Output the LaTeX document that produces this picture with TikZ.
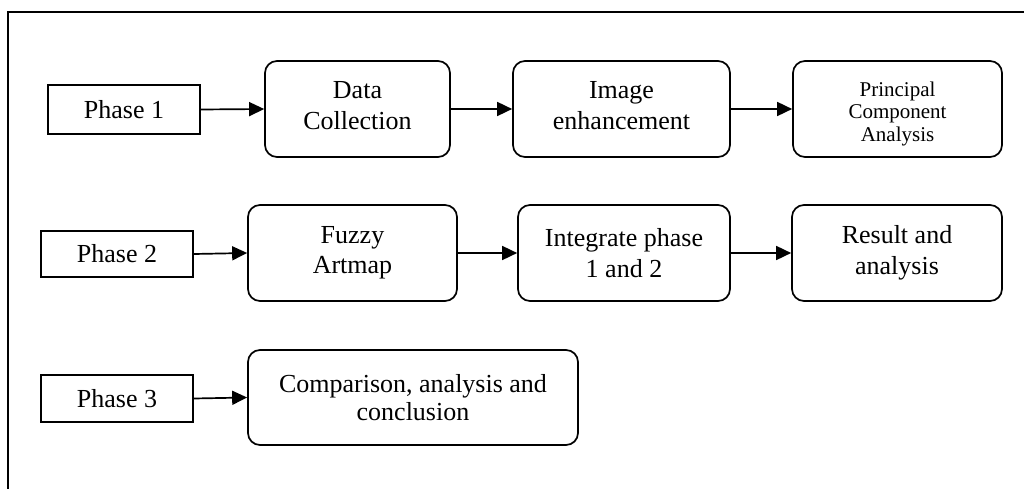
\documentclass[tikz,border=0pt]{standalone}
\usepackage{fontspec}
\setmainfont{Liberation Serif}
\usetikzlibrary{arrows.meta}
\begin{document}
\begin{tikzpicture}[x=1pt,y=-1pt,
  phasebox/.style={draw,line width=1.7pt,minimum width=152pt,inner sep=0pt,font=\fontsize{26}{30}\selectfont},
  stepbox/.style={draw,line width=1.7pt,rounded corners=12pt,minimum height=96pt,inner sep=0pt,align=center,font=\fontsize{26}{30.5}\selectfont},
  conn/.style={line width=1.7pt,-{Triangle[length=15pt,width=14pt]}}]
\useasboundingbox (0,0) rectangle (1024,489);
\draw[line width=1.8pt] (8,489) -- (8,12) -- (1024,12);
% row 1
\node[phasebox,minimum height=49pt] (p1) at (124,109.5) {Phase 1};
\node[stepbox,minimum width=185pt,text depth=7pt] (dc) at (357.5,109) {Data\\Collection};
\node[stepbox,minimum width=217pt,text depth=7pt] (ie) at (621.5,109) {Image\\enhancement};
\node[stepbox,minimum width=209pt,font=\fontsize{21}{22.5}\selectfont] (pca) at (897.5,109) {\rule{0pt}{24pt}Principal\\Component\\Analysis};
% row 2
\node[phasebox,minimum height=46pt] (p2) at (117,254) {Phase 2};
\node[stepbox,minimum width=209pt] (fa) at (352.5,253) {Fuzzy\\Artmap};
\node[stepbox,minimum width=212pt] (ip) at (624,253) {Integrate phase\\1 and 2};
\node[stepbox,minimum width=210pt] (ra) at (897,253) {Result and\\analysis};
% row 3
\node[phasebox,minimum height=47pt] (p3) at (117,398.5) {Phase 3};
\node[stepbox,minimum width=330pt,minimum height=95pt,font=\fontsize{26}{28.5}\selectfont] (ca) at (413,397.5) {Comparison, analysis and\\conclusion};
% connectors
\draw[conn] (p1.east) -- (dc.west);
\draw[conn] (dc.east) -- (ie.west);
\draw[conn] (ie.east) -- (pca.west);
\draw[conn] (p2.east) -- (fa.west);
\draw[conn] (fa.east) -- (ip.west);
\draw[conn] (ip.east) -- (ra.west);
\draw[conn] (p3.east) -- (ca.west);
\end{tikzpicture}
\end{document}
